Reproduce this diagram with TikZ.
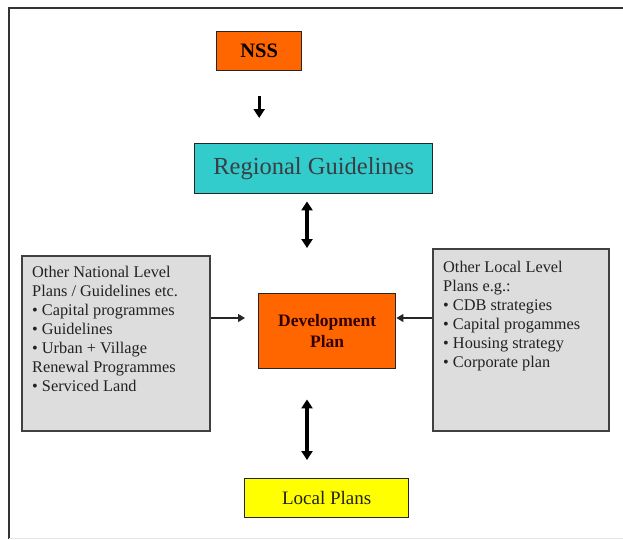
\documentclass[tikz,border=0pt]{standalone}
\usepackage{fontspec}
\setmainfont{Liberation Serif}
\usetikzlibrary{arrows.meta,calc}
\definecolor{nssorange}{HTML}{FF6600}
\definecolor{rgcyan}{HTML}{33CCCC}
\definecolor{lpyellow}{HTML}{FFFF00}
\definecolor{boxgray}{HTML}{DDDDDD}
\definecolor{txtgray}{HTML}{222222}
\tikzset{
  plainbox/.style={draw=black!85, line width=1.4pt, inner sep=0pt, anchor=north west},
  sidebox/.style={draw=black!75, fill=boxgray, line width=2pt, inner sep=0pt, anchor=north west},
  sidetext/.style={anchor=north west, inner sep=0pt, align=left, text=txtgray,
    font=\fontsize{16.3}{19}\selectfont},
  bigarrow/.style={line width=3.4pt, -{Triangle[width=11pt,length=9pt]}},
  dblarrow/.style={line width=3.4pt, {Triangle[width=11pt,length=9pt]}-{Triangle[width=11pt,length=9pt]}},
  thinarrow/.style={line width=1.1pt, draw=black!85, -{Triangle[width=8pt,length=7pt]}},
}
\begin{document}
\begin{tikzpicture}[x=1pt,y=-1pt]
\useasboundingbox (0,0) rectangle (623,539);
% frame
\draw[line width=2.4pt, black!80] (9,539) -- (9,8) -- (623,8);
\draw[line width=0.6pt, black!10] (9,538) -- (623,538);

% nodes
\node[plainbox, fill=nssorange, minimum width=85pt, minimum height=39pt,
  font=\fontsize{20.5}{24}\selectfont\bfseries] (nss) at (216,31) {NSS};
\node[plainbox, fill=rgcyan, minimum width=238pt, minimum height=50pt,
  font=\fontsize{24.5}{28}\selectfont, text={black!85!cyan}] (rg) at (194,143) {Regional Guidelines};
\node[plainbox, fill=nssorange, minimum width=137pt, minimum height=75pt, align=center,
  font=\fontsize{17.5}{21}\selectfont\bfseries, text=black!80!red] (dp) at (258,293) {Development\\Plan};
\node[plainbox, fill=lpyellow, minimum width=164pt, minimum height=39pt,
  font=\fontsize{19}{22}\selectfont, text=txtgray] (lp) at (244,478) {Local Plans};

\node[sidebox, minimum width=188pt, minimum height=175pt] (lb) at (21,255) {};
\node[sidetext] (lbt) at (32,265.5) {Other National Level\\Plans / Guidelines etc.\\%
\textbullet\ Capital programmes\\\textbullet\ Guidelines\\\textbullet\ Urban + Village\\%
Renewal Programmes\\\textbullet\ Serviced Land};

\node[sidebox, minimum width=176pt, minimum height=182pt] (rb) at (432,248) {};
\node[sidetext] (rbt) at (443,260.5) {Other Local Level\\Plans e.g.:\\%
\textbullet\ CDB strategies\\\textbullet\ Capital progammes\\\textbullet\ Housing strategy\\%
\textbullet\ Corporate plan};

% helper coordinates
\coordinate (ax) at (307,0);
\coordinate (ay) at (0,318);

% connectors
\draw[bigarrow, shorten <=25pt, shorten >=25pt] (nss.south) -- (nss.south |- rg.north);
\draw[dblarrow, shorten <=7pt, shorten >=45pt] (ax |- rg.south) -- (ax |- dp.north);
\draw[dblarrow, shorten <=30pt, shorten >=18pt] (ax |- dp.south) -- (ax |- lp.north);
\draw[thinarrow, shorten >=13pt] (lb.east |- ay) -- (dp.west |- ay);
\draw[thinarrow] (rb.west |- ay) -- (dp.east |- ay);
\end{tikzpicture}
\end{document}
